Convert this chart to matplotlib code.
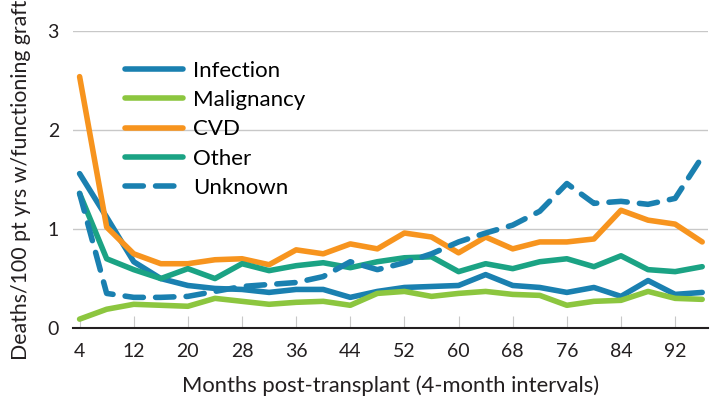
import numpy as np
import matplotlib
matplotlib.use("Agg")
import matplotlib.pyplot as plt

plt.rcParams['font.family'] = ['Lato', 'DejaVu Sans']

months = list(range(4, 97, 4))
infection = [1.56, 1.12, 0.67, 0.50, 0.43, 0.40, 0.39, 0.36, 0.39, 0.39, 0.31, 0.37,
             0.41, 0.42, 0.43, 0.54, 0.43, 0.41, 0.36, 0.41, 0.32, 0.48, 0.34, 0.36]
malignancy = [0.09, 0.19, 0.24, 0.23, 0.22, 0.30, 0.27, 0.24, 0.26, 0.27, 0.23, 0.35,
              0.37, 0.32, 0.35, 0.37, 0.34, 0.33, 0.23, 0.27, 0.28, 0.37, 0.30, 0.29]
cvd = [2.54, 1.02, 0.75, 0.65, 0.65, 0.69, 0.70, 0.64, 0.79, 0.75, 0.85, 0.80,
       0.96, 0.92, 0.76, 0.92, 0.80, 0.87, 0.87, 0.90, 1.19, 1.09, 1.05, 0.87]
other = [1.36, 0.70, 0.59, 0.50, 0.60, 0.50, 0.65, 0.58, 0.63, 0.66, 0.61, 0.67,
         0.71, 0.72, 0.57, 0.65, 0.60, 0.67, 0.70, 0.62, 0.73, 0.59, 0.57, 0.62]
unknown = [1.36, 0.35, 0.31, 0.31, 0.32, 0.37, 0.42, 0.44, 0.46, 0.52, 0.67, 0.59,
           0.66, 0.75, 0.87, 0.96, 1.04, 1.18, 1.46, 1.26, 1.28, 1.25, 1.31, 1.73]
xticks = list(range(4, 93, 8))

blue = '#1a80b0'
fig = plt.figure(figsize=(7.14, 4.04), dpi=100)
ax = fig.add_axes([0.102, 0.188, 0.890, 0.735])

lw = 4.0
ax.plot(months, infection, color=blue, lw=lw, label='Infection', solid_capstyle='round')
ax.plot(months, malignancy, color='#8cc63f', lw=lw, label='Malignancy', solid_capstyle='round')
ax.plot(months, cvd, color='#f7941e', lw=lw, label='CVD', solid_capstyle='round')
ax.plot(months, other, color='#1ba384', lw=lw, label='Other', solid_capstyle='round')
ax.plot(months, unknown, color=blue, lw=lw, ls=(0, (3.3, 2.2)), label='Unknown',
        dash_capstyle='round')

ax.set_xlim(3, 96.9)
ax.set_ylim(0, 3)
ax.set_yticks([0, 1, 2, 3])
ax.set_xticks(xticks)
ax.yaxis.grid(True, color='#c8c8c8', lw=1)
ax.set_axisbelow(True)
for s in ['left', 'right', 'top']:
    ax.spines[s].set_visible(False)
ax.spines['bottom'].set_color('#231f20')
ax.spines['bottom'].set_linewidth(1.5)
ax.tick_params(axis='y', length=0, labelsize=14, pad=10, colors='#231f20')
ax.tick_params(axis='x', direction='in', length=9, width=0.8, color='#c8c8c8',
               labelsize=14, pad=11, labelcolor='#231f20')

ax.set_xlabel('Months post-transplant (4-month intervals)', fontsize=15.8,
              color='#231f20', labelpad=11)
ax.set_ylabel('Deaths/100 pt yrs w/functioning graft', fontsize=15.3,
              color='#231f20', labelpad=12)

leg = ax.legend(loc='upper left', bbox_to_anchor=(0.082, 0.90), frameon=False,
                fontsize=16, handlelength=2.6, handletextpad=0.45, labelspacing=0.42,
                borderpad=0, borderaxespad=0)

fig.savefig('out.png', dpi=100)
